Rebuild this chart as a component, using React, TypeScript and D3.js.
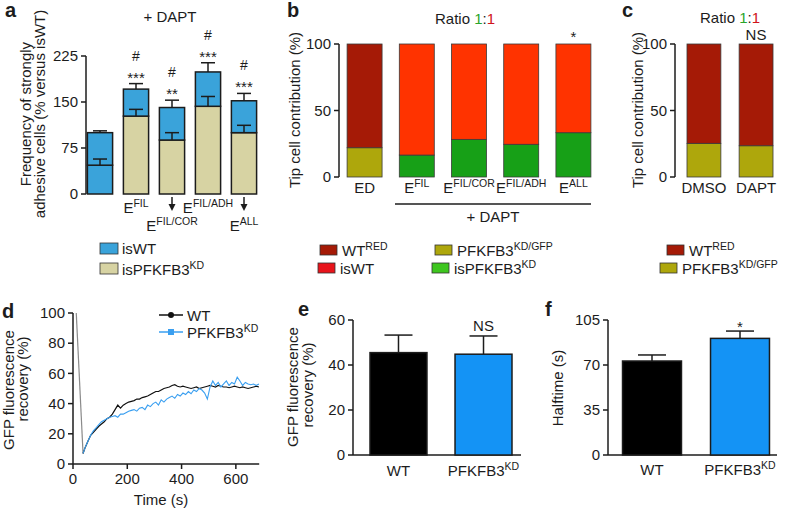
import * as d3 from 'd3';

const FONT = '"Liberation Sans", Arial, Helvetica, sans-serif';
const INK = '#1c1c1c';
const FS = 15;

/* ═══ data ═══ */
// a — adhesion frequency, stacked (+ DAPT)
const aLabels = ['', 'E^FIL', 'E^FIL/COR', 'E^FIL/ADH', 'E^ALL'];
const aLabelRow = [0, 0, 1, 0, 1];
const aLower = [47, 127, 88, 143, 100];
const aLowerErr = [57, 138, 100, 159, 112];
const aTotal = [100, 171, 141, 199, 152];
const aTotalErr = [103, 180, 153, 214, 164];
const aLowerIsWT = [true, false, false, false, false];
const aStars = ['', '***', '**', '***', '***'];
const aHash = ['', '#', '#', '#', '#'];
const aTicks = [0, 75, 150, 225];

// b — tip cell contribution
const bLabels = ['ED', 'E^FIL', 'E^FIL/COR', 'E^FIL/ADH', 'E^ALL'];
const bLower = [22, 16.5, 28.3, 24.6, 33.3];
const bIsED = [true, false, false, false, false];
const bSig = ['', '', '', '', '*'];
const bcTicks = [0, 50, 100];

// c
const cLabels = ['DMSO', 'DAPT'];
const cLower = [25.3, 23.5];

// d — FRAP recovery
const dLeadT = [12, 37];
const dLeadV = [100, 7];
const dTime = [37, 45, 55, 65, 75, 85, 95, 105, 115, 125, 135, 145, 155, 165, 175, 185, 195, 205, 215, 225,
  235, 245, 255, 265, 275, 285, 295, 305, 315, 325, 335, 345, 355, 365, 375, 385, 395, 405, 415, 425,
  435, 445, 455, 465, 475, 485, 495, 505, 515, 525, 535, 545, 555, 565, 575, 585, 595, 605, 615, 625,
  635, 645, 655, 665, 675, 685];
const dWT = [7, 11, 15, 19, 21, 23, 25, 26.5, 28, 30, 31, 33, 36, 39, 37, 39, 40, 41, 41.5, 42,
  43, 43, 44, 44.5, 45, 46, 47, 48, 48, 49, 50, 50.5, 51, 52, 52.5, 51.5, 51, 51.5, 51, 50.5,
  50, 50.5, 51, 50, 50.5, 51, 51.5, 52, 51.5, 51, 52, 51.5, 51, 51, 50.5, 51, 51.5, 51, 50.5, 51,
  50.5, 50, 50.5, 51, 51.5, 51];
const dKD = [7, 11, 15, 19, 22, 24, 26, 28, 29, 30, 31, 31.5, 32, 31, 33, 33, 34, 35, 35.5, 36,
  35, 37, 37.5, 36, 39, 38, 40, 41, 39, 42.5, 41, 43, 44, 45, 43.5, 46, 45, 47, 46, 48,
  46.5, 49, 48, 50, 49, 47, 43, 51, 55, 52, 54, 51, 53, 55, 52, 54, 53, 57.5, 55, 52,
  54, 53, 52.5, 53, 52, 53];
const dYTicks = [0, 20, 40, 60, 80, 100];
const dXTicks = [0, 200, 400, 600];

// e — recovery
const efLabels = ['WT', 'PFKFB3^KD'];
const eVals = [45.5, 44.8];
const eErr = [53.3, 52.9];
const eSig = ['', 'NS'];
const eTicks = [0, 20, 40, 60];

// f — halftime
const fVals = [73.1, 90.7];
const fErr = [77.8, 96.4];
const fSig = ['', '*'];
const fTicks = [0, 35, 70, 105];

const C = {
  isWT: '#3aa3da', isKD: '#d7d3a3',
  wtRed: '#a51a06', gfp: '#aea70c', red: '#ff3300', green: '#17a017',
  legRed: '#e8141b', legGreen: '#3ec61f',
  blue: '#3a9ff0', barBlue: '#1493f5',
};

/* ═══ helpers ═══ */
function Lbl({ s, x, y, anchor = 'middle', size = FS, fill = INK }: any) {
  const [base, sup] = s.split('^');
  return (
    <text x={x} y={y} textAnchor={anchor} fontSize={size} fill={fill}>
      {base}
      {sup && <tspan dy={-6} fontSize={size * 0.7}>{sup}</tspan>}
    </text>
  );
}

function YAxis({ x, scale, ticks }: any) {
  const [d0, d1] = scale.domain();
  return (
    <g>
      <line x1={x} x2={x} y1={scale(d0)} y2={scale(d1)} stroke={INK} strokeWidth={1.5} />
      {ticks.map((t: number) => (
        <g key={t}>
          <line x1={x - 5} x2={x} y1={scale(t)} y2={scale(t)} stroke={INK} strokeWidth={1.5} />
          <text x={x - 8} y={scale(t)} dy="0.35em" textAnchor="end" fontSize={FS} fill={INK}>{t}</text>
        </g>
      ))}
    </g>
  );
}

function VLabel({ lines, xs, cy }: any) {
  return (
    <g>
      {lines.map((l: string, i: number) => (
        <text key={i} transform={`translate(${xs[i] + 5},${cy[i]}) rotate(-90)`} textAnchor="middle" fontSize={FS} fill={INK}>{l}</text>
      ))}
    </g>
  );
}

function ErrBar({ x, y0, y1, w = 12 }: any) {
  return (
    <g stroke={INK} strokeWidth={1.5}>
      <line x1={x} x2={x} y1={y0} y2={y1} />
      <line x1={x - w / 2} x2={x + w / 2} y1={y1} y2={y1} />
    </g>
  );
}

function Ratio({ x, y }: any) {
  return (
    <text x={x} y={y} textAnchor="middle" fontSize={FS} fill={INK}>
      Ratio <tspan fill="#2aa52a">1</tspan>:<tspan fill="#d0141b">1</tspan>
    </text>
  );
}

function Swatch({ x, y, color, label }: any) {
  return (
    <g>
      <rect x={x} y={y} width={17} height={10} fill={color} stroke="#333" strokeWidth={0.8} />
      <Lbl s={label} x={x + 22} y={y + 10.5} anchor="start" />
    </g>
  );
}

/* ═══ panels ═══ */
function PanelA() {
  const idx = aTotal.map((_, i) => i);
  const x = d3.scaleBand<number>().domain(idx).range([82, 262]).paddingInner(0.3).paddingOuter(0.15);
  const y = d3.scaleLinear().domain([0, 225]).range([194, 56]);
  const bw = x.bandwidth();
  return (
    <g>
      <text x={5} y={17} fontSize={20} fontWeight="bold" fill={INK}>a</text>
      <text x={170} y={22} textAnchor="middle" fontSize={FS} fill={INK}>+ DAPT</text>
      <VLabel lines={['Frequency of strongly', 'adhesive cells (% versus isWT)']} xs={[26, 40]} cy={[114, 114]} />
      <YAxis x={86} scale={y} ticks={aTicks} />
      {idx.map(i => {
        const x0 = x(i)!;
        const cx = x0 + bw / 2;
        return (
          <g key={i}>
            <rect x={x0} y={y(aLower[i])} width={bw} height={y(0) - y(aLower[i])}
              fill={aLowerIsWT[i] ? C.isWT : C.isKD} stroke={INK} strokeWidth={1.5} />
            <rect x={x0} y={y(aTotal[i])} width={bw} height={y(aLower[i]) - y(aTotal[i])}
              fill={C.isWT} stroke={INK} strokeWidth={1.5} />
            <ErrBar x={cx} y0={y(aLower[i])} y1={y(aLowerErr[i])} w={14} />
            <ErrBar x={cx} y0={y(aTotal[i])} y1={y(aTotalErr[i])} w={14} />
            <text x={cx} y={y(aTotalErr[i]) - 1} textAnchor="middle" fontSize={FS} fill={INK}>{aStars[i]}</text>
            <text x={cx} y={y(aTotalErr[i]) - 23} textAnchor="middle" fontSize={14} fill={INK}>{aHash[i]}</text>
            {aLabels[i] && (
              <Lbl s={aLabels[i]} x={cx} y={aLabelRow[i] ? 231 : 213} />
            )}
            {aLabelRow[i] === 1 && (
              <g>
                <line x1={cx} x2={cx} y1={197} y2={205} stroke={INK} strokeWidth={1.5} />
                <path d={`M${cx - 3.5},${204} L${cx + 3.5},${204} L${cx},${211} Z`} fill={INK} />
              </g>
            )}
          </g>
        );
      })}
      <rect x={100} y={243} width={18} height={11} fill={C.isWT} stroke="#333" strokeWidth={0.8} />
      <text x={122} y={254} fontSize={FS} fill={INK}>isWT</text>
      <rect x={100} y={263} width={18} height={11} fill={C.isKD} stroke="#333" strokeWidth={0.8} />
      <Lbl s="isPFKFB3^KD" x={122} y={275} anchor="start" />
    </g>
  );
}

function PanelB() {
  const idx = bLower.map((_, i) => i);
  const x = d3.scaleBand<number>().domain(idx).range([339, 599]).paddingInner(0.33).paddingOuter(0.155);
  const y = d3.scaleLinear().domain([0, 100]).range([177, 44]);
  const bw = x.bandwidth();
  return (
    <g>
      <text x={287} y={17} fontSize={20} fontWeight="bold" fill={INK}>b</text>
      <Ratio x={465} y={24} />
      <VLabel lines={['Tip cell contribution (%)']} xs={[295]} cy={[110]} />
      <YAxis x={339} scale={y} ticks={bcTicks} />
      {idx.map(i => {
        const x0 = x(i)!;
        const cx = x0 + bw / 2;
        return (
          <g key={i}>
            <rect x={x0} y={y(bLower[i])} width={bw} height={y(0) - y(bLower[i])}
              fill={bIsED[i] ? C.gfp : C.green} stroke="#3a3a3a" strokeWidth={0.8} />
            <rect x={x0} y={y(100)} width={bw} height={y(bLower[i]) - y(100)}
              fill={bIsED[i] ? C.wtRed : C.red} stroke="#3a3a3a" strokeWidth={0.8} />
            <text x={cx} y={y(100) - 2} textAnchor="middle" fontSize={FS} fill={INK}>{bSig[i]}</text>
            <Lbl s={bLabels[i]} x={cx} y={193} />
          </g>
        );
      })}
      <line x1={395} x2={591} y1={204} y2={204} stroke={INK} strokeWidth={1.5} />
      <text x={493} y={222} textAnchor="middle" fontSize={FS} fill={INK}>+ DAPT</text>
      <Swatch x={320} y={245} color={C.wtRed} label="WT^RED" />
      <Swatch x={435} y={245} color={C.gfp} label="PFKFB3^KD/GFP" />
      <Swatch x={318} y={263} color={C.legRed} label="isWT" />
      <Swatch x={432} y={263} color={C.legGreen} label="isPFKFB3^KD" />
    </g>
  );
}

function PanelC() {
  const idx = cLower.map((_, i) => i);
  const x = d3.scaleBand<number>().domain(idx).range([675, 785]).paddingInner(0.35).paddingOuter(0.23);
  const y = d3.scaleLinear().domain([0, 100]).range([177, 44]);
  const bw = x.bandwidth();
  return (
    <g>
      <text x={622} y={17} fontSize={20} fontWeight="bold" fill={INK}>c</text>
      <Ratio x={730} y={23} />
      <text x={756} y={40} textAnchor="middle" fontSize={FS} fill={INK}>NS</text>
      <VLabel lines={['Tip cell contribution (%)']} xs={[638]} cy={[110]} />
      <YAxis x={675} scale={y} ticks={bcTicks} />
      {idx.map(i => {
        const x0 = x(i)!;
        return (
          <g key={i}>
            <rect x={x0} y={y(cLower[i])} width={bw} height={y(0) - y(cLower[i])}
              fill={C.gfp} stroke="#3a3a3a" strokeWidth={0.8} />
            <rect x={x0} y={y(100)} width={bw} height={y(cLower[i]) - y(100)}
              fill={C.wtRed} stroke="#3a3a3a" strokeWidth={0.8} />
            <text x={x0 + bw / 2} y={193} textAnchor="middle" fontSize={FS} fill={INK}>{cLabels[i]}</text>
          </g>
        );
      })}
      <Swatch x={667} y={245} color={C.wtRed} label="WT^RED" />
      <Swatch x={660} y={263} color={C.gfp} label="PFKFB3^KD/GFP" />
    </g>
  );
}

function PanelD() {
  const x = d3.scaleLinear().domain([0, 700]).range([73, 263]);
  const y = d3.scaleLinear().domain([0, 100]).range([464, 313]);
  const line = d3.line<number>().x((_, i) => x(dTime[i])).y(v => y(v));
  const lead = d3.line<number>().x((_, i) => x(dLeadT[i])).y(v => y(v));
  return (
    <g>
      <text x={2} y={318} fontSize={20} fontWeight="bold" fill={INK}>d</text>
      <VLabel lines={['GFP fluorescence', 'recovery (%)']} xs={[9, 23]} cy={[390, 379]} />
      <YAxis x={73} scale={y} ticks={dYTicks} />
      <line x1={73} x2={x(686)} y1={464} y2={464} stroke={INK} strokeWidth={1.5} />
      {dXTicks.map(t => (
        <g key={t}>
          <line x1={x(t)} x2={x(t)} y1={464} y2={469} stroke={INK} strokeWidth={1.5} />
          <text x={x(t)} y={484} textAnchor="middle" fontSize={FS} fill={INK}>{t}</text>
        </g>
      ))}
      <text x={161} y={505} textAnchor="middle" fontSize={FS} fill={INK}>Time (s)</text>
      <path d={lead(dLeadV)!} fill="none" stroke="#8a8a8a" strokeWidth={1.2} />
      <path d={line(dWT)!} fill="none" stroke="#111" strokeWidth={1.2} />
      <path d={line(dKD)!} fill="none" stroke={C.blue} strokeWidth={1.1} />
      <line x1={159} x2={183} y1={315} y2={315} stroke="#111" strokeWidth={1.5} />
      <circle cx={171} cy={315} r={3} fill="#111" />
      <text x={187} y={320.5} fontSize={FS} fill={INK}>WT</text>
      <line x1={159} x2={183} y1={332} y2={332} stroke={C.blue} strokeWidth={1.5} />
      <rect x={168} y={329} width={6} height={6} fill={C.blue} />
      <Lbl s="PFKFB3^KD" x={187} y={337.5} anchor="start" />
    </g>
  );
}

function SimpleBars({ letter, lx, axisX, axisEnd, range, po, yMax, vals, errs, sig, ticks, label, lxs, lcy, labelY }: any) {
  const idx = vals.map((_: number, i: number) => i);
  const x = d3.scaleBand<number>().domain(idx).range(range).paddingInner(0.33).paddingOuter(po);
  const y = d3.scaleLinear().domain([0, yMax]).range([455, 320]);
  const bw = x.bandwidth();
  const colors = ['#000000', C.barBlue];
  return (
    <g>
      <text x={lx} y={316} fontSize={20} fontWeight="bold" fill={INK}>{letter}</text>
      <VLabel lines={label} xs={lxs} cy={lcy} />
      <YAxis x={axisX} scale={y} ticks={ticks} />
      <line x1={axisX} x2={axisEnd} y1={455} y2={455} stroke={INK} strokeWidth={1.5} />
      {idx.map((i: number) => {
        const x0 = x(i)!;
        const cx = x0 + bw / 2;
        return (
          <g key={i}>
            <ErrBar x={cx} y0={y(vals[i])} y1={y(errs[i])} w={28} />
            <rect x={x0} y={y(vals[i])} width={bw} height={455 - y(vals[i])}
              fill={colors[i]} stroke={INK} strokeWidth={1.5} />
            <text x={cx} y={sig[i] === '*' ? y(errs[i]) + 1 : y(errs[i]) - 5} textAnchor="middle" fontSize={FS} fill={INK}>{sig[i]}</text>
            <Lbl s={efLabels[i]} x={cx} y={labelY} />
          </g>
        );
      })}
    </g>
  );
}

export default function App() {
  return (
    <svg width={786} height={509} style={{ position: 'absolute', left: 0, top: 0, background: '#fff' }}
      fontFamily={FONT}>
      <rect width={786} height={509} fill="#fff" />
      <PanelA />
      <PanelB />
      <PanelC />
      <PanelD />
      <SimpleBars letter="e" lx={298} axisX={353} axisEnd={521} range={[353, 529]} po={0.2} yMax={60}
        vals={eVals} errs={eErr} sig={eSig} ticks={eTicks} labelY={476}
        label={['GFP fluorescence', 'recovery (%)']} lxs={[293, 308]} lcy={[387, 385]} />
      <SimpleBars letter="f" lx={545} axisX={608} axisEnd={777} range={[608, 784]} po={0.165} yMax={105}
        vals={fVals} errs={fErr} sig={fSig} ticks={fTicks} labelY={475}
        label={['Halftime (s)']} lxs={[558]} lcy={[388]} />
    </svg>
  );
}
